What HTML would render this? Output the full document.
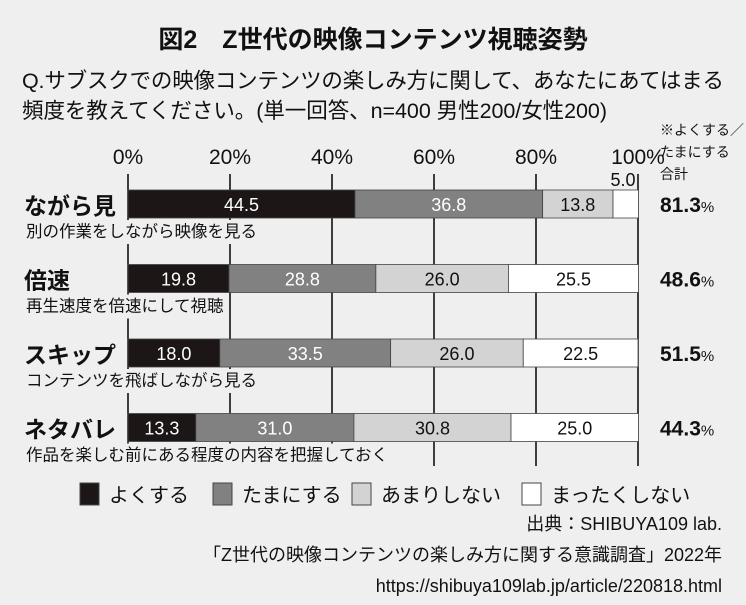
<!DOCTYPE html>
<html><head><meta charset="utf-8"><style>
html,body{margin:0;padding:0;background:#efefef;}
svg{display:block;font-family:"Liberation Sans","Noto Sans CJK JP",sans-serif;}
</style></head><body>
<svg width="746" height="605" viewBox="0 0 746 605">
<rect width="746" height="605" fill="#efefef"/>
<text x="373" y="48" text-anchor="middle" font-size="25" font-weight="bold" fill="#111">図2　Z世代の映像コンテンツ視聴姿勢</text>
<text x="22" y="88" font-size="21.5" fill="#111" textLength="702">Q.サブスクでの映像コンテンツの楽しみ方に関して、あなたにあてはまる</text>
<text x="22" y="118" font-size="21.5" fill="#111" textLength="585">頻度を教えてください。(単一回答、n=400 男性200/女性200)</text>
<text x="660" y="135" font-size="14" fill="#111">※よくする／</text>
<text x="660" y="157" font-size="14" fill="#111">たまにする</text>
<text x="660" y="179" font-size="14" fill="#111">合計</text>
<g id="grid"></g>
<g id="bars"></g>
<g id="legend"></g>
<text x="722" y="530" text-anchor="end" font-size="18" fill="#111">出典：SHIBUYA109 lab.</text>
<text x="722" y="561" text-anchor="end" font-size="18" fill="#111">「Z世代の映像コンテンツの楽しみ方に関する意識調査」2022年</text>
<text x="722" y="592" text-anchor="end" font-size="18" fill="#111">https://shibuya109lab.jp/article/220818.html</text>
</svg>
<script>
const categories=["ながら見","倍速","スキップ","ネタバレ"];
const subtitles=["別の作業をしながら映像を見る","再生速度を倍速にして視聴","コンテンツを飛ばしながら見る","作品を楽しむ前にある程度の内容を把握しておく"];
const often=[44.5,19.8,18.0,13.3];
const sometimes=[36.8,28.8,33.5,31.0];
const rarely=[13.8,26.0,26.0,30.8];
const never=[5.0,25.5,22.5,25.0];
const totals=["81.3","48.6","51.5","44.3"];
const ticks=[0,20,40,60,80,100];
const seriesNames=["よくする","たまにする","あまりしない","まったくしない"];
const NS="http://www.w3.org/2000/svg";
const x0=128,x1=638;
const xs=v=>x0+(x1-x0)*v/100;
const rowY=i=>190+i*74.5;
const fills=["#1c1617","#818181","#d3d3d3","#ffffff"];
const txtFill=["#fff","#fff","#111","#111"];
function mk(tag,attrs,parent){const e=document.createElementNS(NS,tag);for(const k in attrs)e.setAttribute(k,attrs[k]);parent.appendChild(e);return e;}
const grid=document.getElementById('grid');
ticks.forEach(t=>{
 const lt=mk('text',{x:xs(t),y:164,'text-anchor':'middle','font-size':21,fill:'#111'},grid);
 
 
 lt.textContent=t+'%';
 const ln=mk('line',{x1:xs(t),x2:xs(t),y1:174,y2:466,stroke:'#111','stroke-width':1.6},grid);
 
 
});
const bars=document.getElementById('bars');
const series=[often,sometimes,rarely,never];
categories.forEach((c,i)=>{
 const y=rowY(i);
 const st=mk('text',{x:26,y:y+47,'font-size':16.5,fill:'#111'},bars);
 
 
 st.textContent=subtitles[i];
 const bb=st.getBBox();
 const bg=mk('rect',{x:bb.x-2,y:y+30,width:bb.width+4,height:24,fill:'#efefef'},bars);
 bars.insertBefore(bg,st);
 
 
 const ct=mk('text',{x:24,y:y+24,'font-size':23,'font-weight':'bold',fill:'#111'},bars);
 
 
 ct.textContent=c;
 let acc=0;
 series.forEach((s,k)=>{
  const v=s[i];
  const r=mk('rect',{x:xs(acc),y:y,width:xs(acc+v)-xs(acc),height:28,fill:fills[k],stroke:'#444','stroke-width':0.8},bars);
  
  
  const small=v<8;
  const t=mk('text',{x:small?xs(acc+v)-3:xs(acc+v/2),y:small?y-4:y+21,'text-anchor':small?'end':'middle','font-size':18,fill:small?'#111':txtFill[k]},bars);
  
  
  t.textContent=v.toFixed(1);
  acc+=v;
 });
 const tt=mk('text',{x:660,y:y+22,'font-size':21,'font-weight':'bold',fill:'#111'},bars);
 
 
 tt.innerHTML=totals[i]+'<tspan font-size="15" font-weight="normal">%</tspan>';
});
const lg=document.getElementById('legend');
const lx=[80,213,352,522];
seriesNames.forEach((n,k)=>{
 const r=mk('rect',{x:lx[k],y:483,width:19,height:22,fill:fills[k],stroke:'#444','stroke-width':1},lg);
 
 
 const t=mk('text',{x:lx[k]+29,y:502,'font-size':20,fill:'#111'},lg);
 
 
 t.textContent=n;
});
</script>
</body></html>
